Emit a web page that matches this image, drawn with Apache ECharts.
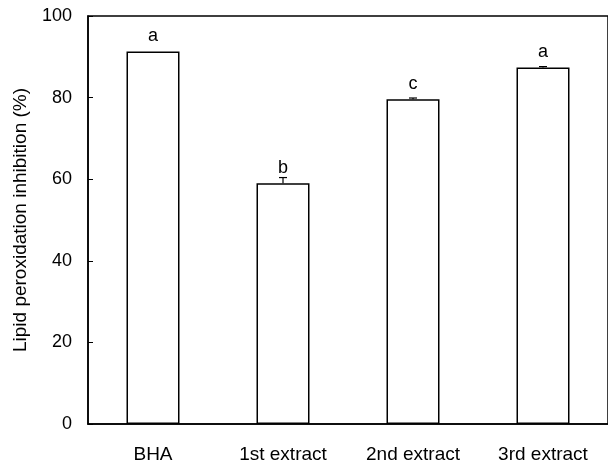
<!DOCTYPE html>
<html>
<head>
<meta charset="utf-8">
<script src="https://cdn.jsdelivr.net/npm/echarts@6/dist/echarts.min.js"></script>
<style>
  html, body { margin: 0; padding: 0; background: #fff; }
  #chart { width: 608px; height: 466px; }
</style>
</head>
<body>
<div id="chart"></div>
<script>
// Lipid peroxidation inhibition by BHA and successive extracts
const categories = ['BHA', '1st extract', '2nd extract', '3rd extract'];
const inhibition = [91.3, 59.0, 79.6, 87.4];
const errors = [0.0, 1.4, 0.3, 0.2];
const letters = ['a', 'b', 'c', 'a'];
const yTicks = [0, 20, 40, 60, 80, 100];

const FONT = '"Liberation Sans", Arial, Helvetica, sans-serif';

const chart = echarts.init(document.getElementById('chart'), null, { renderer: 'canvas' });

chart.setOption({
  animation: false,
  backgroundColor: '#fff',
  grid: {
    left: 88, top: 16, width: 524, height: 408,
    show: true, borderColor: '#000', borderWidth: 1.5, backgroundColor: 'transparent'
  },
  xAxis: {
    type: 'category',
    data: categories,
    axisLine: { show: true, lineStyle: { color: '#000', width: 1.5 } },
    axisTick: { show: false },
    axisLabel: { color: '#000', fontFamily: FONT, fontSize: 19, margin: 21 },
    splitLine: { show: false }
  },
  yAxis: {
    type: 'value',
    min: yTicks[0], max: yTicks[yTicks.length - 1], interval: 20,
    name: 'Lipid peroxidation inhibition (%)',
    nameLocation: 'middle', nameGap: 58,
    nameTextStyle: { color: '#000', fontFamily: FONT, fontSize: 19 },
    axisLine: { show: true, lineStyle: { color: '#000', width: 1.5 } },
    axisTick: { show: true, inside: true, length: 5, lineStyle: { color: '#000', width: 1 } },
    axisLabel: { color: '#000', fontFamily: FONT, fontSize: 18, margin: 16 },
    splitLine: { show: false }
  },
  series: [
    {
      type: 'bar',
      data: inhibition,
      barWidth: 53,
      itemStyle: { color: '#fff', borderColor: '#000', borderWidth: 1.5 },
      label: {
        show: true, position: 'top', distance: 6,
        color: '#000', fontFamily: FONT, fontSize: 18,
        formatter: p => letters[p.dataIndex]
      },
      z: 2
    },
    {
      // upper error whiskers
      type: 'custom',
      data: inhibition.map((v, i) => [i, v, errors[i]]),
      renderItem: (params, api) => {
        const i = api.value(0), v = api.value(1), e = api.value(2);
        if (!e) return null;
        const base = api.coord([i, v]);
        const top = api.coord([i, v + e]);
        const half = 4;
        return {
          type: 'group',
          children: [
            { type: 'line', shape: { x1: base[0], y1: base[1], x2: top[0], y2: top[1] },
              style: { stroke: '#000', lineWidth: 1.2 } },
            { type: 'line', shape: { x1: top[0] - half, y1: top[1], x2: top[0] + half, y2: top[1] },
              style: { stroke: '#000', lineWidth: 1.2 } }
          ]
        };
      },
      z: 3
    }
  ]
});
</script>
</body>
</html>
